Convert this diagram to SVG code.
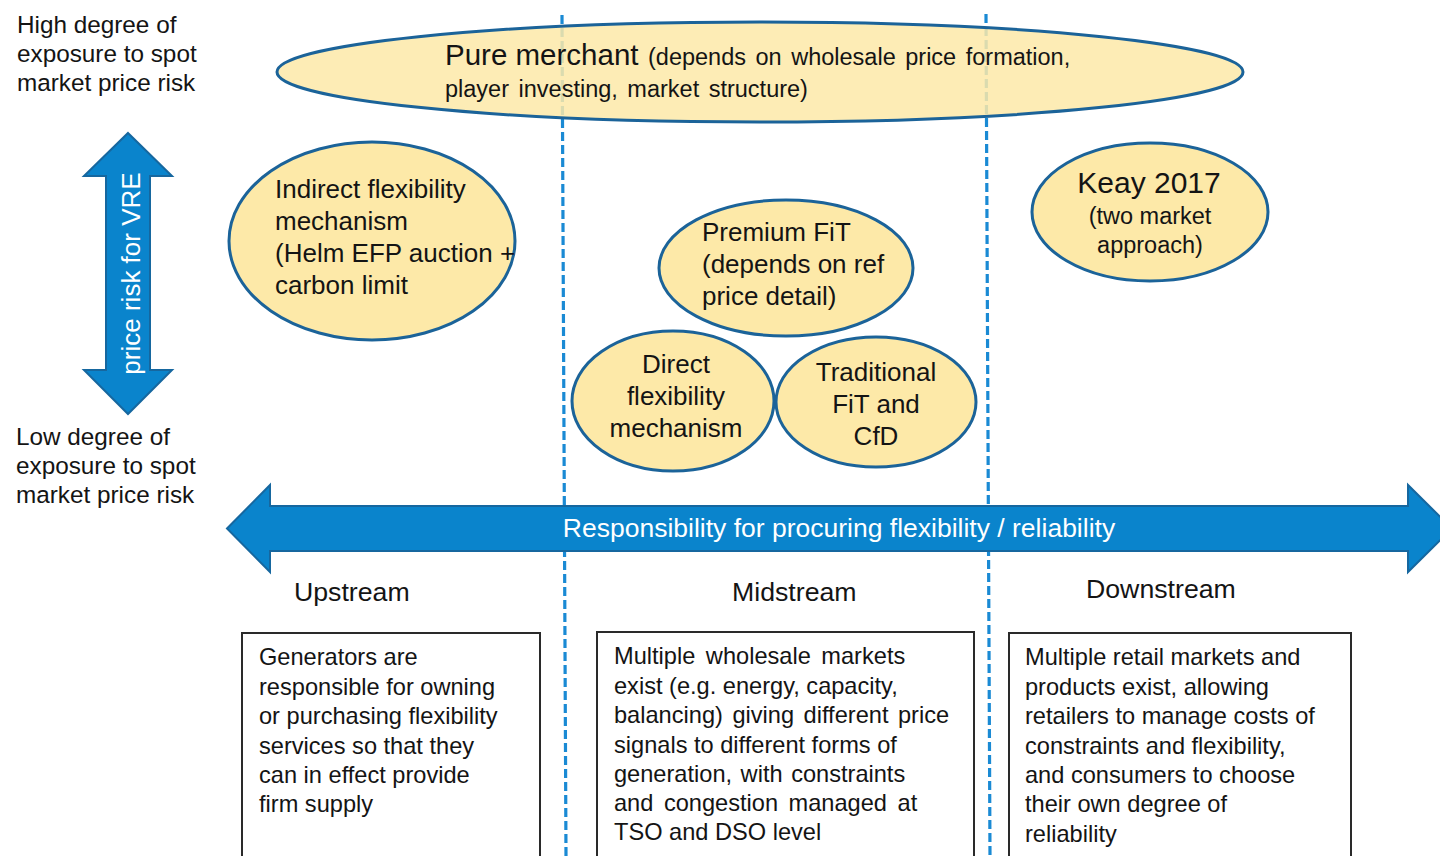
<svg xmlns="http://www.w3.org/2000/svg" width="1440" height="856" viewBox="0 0 1440 856">
  <style>
    text { font-family: "Liberation Sans", Arial, sans-serif; fill: #141414; }
    .lbl { font-size: 24.3px; }
    .bubble { fill: #FDE9A8; stroke: #1B6399; stroke-width: 3; }
    .bubble-top { fill: #FDE9A8; fill-opacity: 0.85; stroke: #1B6399; stroke-width: 3; }
    .btxt { font-size: 26px; }
    .big { font-size: 29.5px; }
    .sub { font-size: 23.5px; word-spacing: 3px; }
    .arrow { fill: #0A84CC; stroke: #16679F; stroke-width: 2; stroke-linejoin: miter; }
    .atxt { font-size: 26px; fill: #ffffff; }
    .divider { stroke: #1A8AD4; stroke-width: 3.2; stroke-dasharray: 9 4; fill: none; }
    .box { fill: #ffffff; stroke: #2a2a2a; stroke-width: 2; }
    .boxtxt { font-size: 23.6px; }
    .head { font-size: 26.7px; }
  </style>

  <rect width="1440" height="856" fill="#ffffff"/>

  <!-- dashed dividers between upstream / midstream / downstream -->
  <g id="connectors">
    <line class="divider" x1="562" y1="15" x2="566" y2="856"/>
    <line class="divider" x1="986" y1="14" x2="990" y2="856"/>
  </g>

  <!-- axis captions -->
  <g id="label-high">
    <text class="lbl" x="17" y="33">High degree of</text>
    <text class="lbl" x="17" y="62">exposure to spot</text>
    <text class="lbl" x="17" y="91">market price risk</text>
  </g>
  <g id="label-low">
    <text class="lbl" x="16" y="445">Low degree of</text>
    <text class="lbl" x="16" y="474">exposure to spot</text>
    <text class="lbl" x="16" y="503">market price risk</text>
  </g>

  <!-- vertical double arrow -->
  <g id="price-risk-arrow">
    <polygon class="arrow" points="128,133 172,176 150,176 150,370 172,370 128,414 84,370 106,370 106,176 84,176"/>
    <text class="atxt" transform="translate(140,273.5) rotate(-90)" text-anchor="middle">price risk for VRE</text>
  </g>

  <!-- pure merchant -->
  <g id="pure-merchant">
    <ellipse class="bubble-top" cx="760" cy="72" rx="483" ry="50"/>
    <text x="445" y="65"><tspan class="big">Pure merchant</tspan><tspan class="sub"> (depends on wholesale price formation,</tspan></text>
    <text class="sub" x="445" y="97">player investing, market structure)</text>
  </g>

  <g id="indirect-flexibility">
    <ellipse class="bubble" cx="372" cy="241" rx="143" ry="99"/>
    <text class="btxt" x="275" y="198">Indirect flexibility</text>
    <text class="btxt" x="275" y="230">mechanism</text>
    <text class="btxt" x="275" y="262">(Helm EFP auction +</text>
    <text class="btxt" x="275" y="294">carbon limit</text>
  </g>

  <g id="keay-2017">
    <ellipse class="bubble" cx="1150" cy="212" rx="118" ry="69"/>
    <text x="1149" y="193" text-anchor="middle" style="font-size:30px">Keay 2017</text>
    <text x="1150" y="224" text-anchor="middle" style="font-size:23.5px">(two market</text>
    <text x="1150" y="253" text-anchor="middle" style="font-size:23.5px">approach)</text>
  </g>

  <g id="premium-fit">
    <ellipse class="bubble" cx="786" cy="268" rx="127" ry="68"/>
    <text class="btxt" x="702" y="241">Premium FiT</text>
    <text class="btxt" x="702" y="273">(depends on ref</text>
    <text class="btxt" x="702" y="305">price detail)</text>
  </g>

  <g id="direct-flexibility">
    <ellipse class="bubble" cx="673" cy="401" rx="101" ry="70"/>
    <text class="btxt" x="676" y="373" text-anchor="middle">Direct</text>
    <text class="btxt" x="676" y="405" text-anchor="middle">flexibility</text>
    <text class="btxt" x="676" y="437" text-anchor="middle">mechanism</text>
  </g>

  <g id="traditional-fit">
    <ellipse class="bubble" cx="876" cy="402" rx="100" ry="65"/>
    <text class="btxt" x="876" y="381" text-anchor="middle">Traditional</text>
    <text class="btxt" x="876" y="413" text-anchor="middle">FiT and</text>
    <text class="btxt" x="876" y="445" text-anchor="middle">CfD</text>
  </g>

  <!-- horizontal double arrow -->
  <g id="responsibility-arrow">
    <polygon class="arrow" points="227,528.5 270,485 270,506 1408,506 1408,485 1452,528.5 1408,572 1408,551 270,551 270,572"/>
    <text class="atxt" x="839" y="537" text-anchor="middle" style="font-size:26.5px">Responsibility for procuring flexibility / reliability</text>
  </g>

  <!-- stream headings -->
  <g id="heading-upstream"><text class="head" x="294" y="601">Upstream</text></g>
  <g id="heading-midstream"><text class="head" x="732" y="601">Midstream</text></g>
  <g id="heading-downstream"><text class="head" x="1086" y="598">Downstream</text></g>

  <!-- description boxes -->
  <g id="box-upstream">
    <rect class="box" x="242" y="633" width="298" height="240"/>
    <text class="boxtxt" x="259" y="665">Generators are</text>
    <text class="boxtxt" x="259" y="694.5">responsible for owning</text>
    <text class="boxtxt" x="259" y="724">or purchasing flexibility</text>
    <text class="boxtxt" x="259" y="753.5">services so that they</text>
    <text class="boxtxt" x="259" y="783">can in effect provide</text>
    <text class="boxtxt" x="259" y="812">firm supply</text>
  </g>
  <g id="box-midstream">
    <rect class="box" x="597" y="632" width="377" height="240"/>
    <text class="boxtxt" x="614" y="664" style="word-spacing:4px">Multiple wholesale markets</text>
    <text class="boxtxt" x="614" y="693.5">exist (e.g. energy, capacity,</text>
    <text class="boxtxt" x="614" y="723" style="word-spacing:3px">balancing) giving different price</text>
    <text class="boxtxt" x="614" y="752.5">signals to different forms of</text>
    <text class="boxtxt" x="614" y="782" style="word-spacing:2px">generation, with constraints</text>
    <text class="boxtxt" x="614" y="811" style="word-spacing:4px">and congestion managed at</text>
    <text class="boxtxt" x="614" y="840">TSO and DSO level</text>
  </g>
  <g id="box-downstream">
    <rect class="box" x="1009" y="633" width="342" height="240"/>
    <text class="boxtxt" x="1025" y="665">Multiple retail markets and</text>
    <text class="boxtxt" x="1025" y="694.5">products exist, allowing</text>
    <text class="boxtxt" x="1025" y="724">retailers to manage costs of</text>
    <text class="boxtxt" x="1025" y="753.5">constraints and flexibility,</text>
    <text class="boxtxt" x="1025" y="783">and consumers to choose</text>
    <text class="boxtxt" x="1025" y="812">their own degree of</text>
    <text class="boxtxt" x="1025" y="841.5">reliability</text>
  </g>
</svg>
